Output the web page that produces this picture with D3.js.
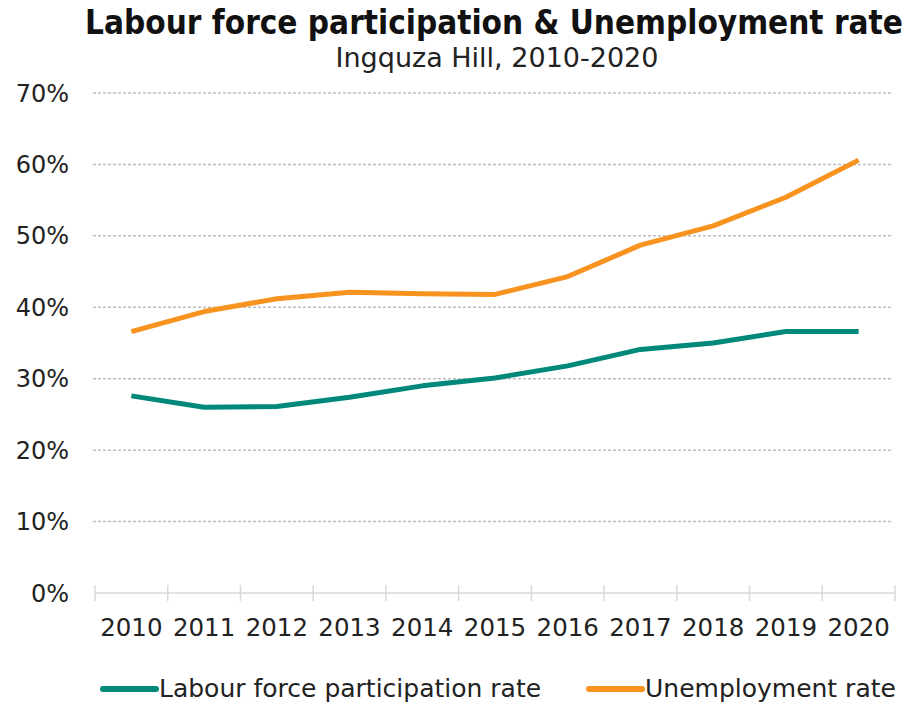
<!DOCTYPE html>
<html>
<head>
<meta charset="utf-8">
<script src="https://cdn.jsdelivr.net/npm/d3@7"></script>
<style>
  body { margin: 0; background: #fff; }
  svg { display: block; font-family: "DejaVu Sans", Verdana, sans-serif; }
</style>
</head>
<body>
<svg id="chart" width="912" height="704"></svg>
<script>
const years = ["2010", "2011", "2012", "2013", "2014", "2015", "2016", "2017", "2018", "2019", "2020"];
const labourForce = [27.6, 26.0, 26.1, 27.4, 29.0, 30.1, 31.8, 34.1, 35.0, 36.6, 36.6];
const unemployment = [36.6, 39.4, 41.2, 42.1, 41.9, 41.8, 44.3, 48.7, 51.4, 55.4, 60.6];
const yTicks = [0, 10, 20, 30, 40, 50, 60, 70];

const series = [
    { name: "Labour force participation rate", values: labourForce, color: "#00897b" },
    { name: "Unemployment rate", values: unemployment, color: "#f7931e" }
];

const svg = d3.select("#chart");

const x = d3.scaleBand()
    .domain(years)
    .range([95, 895]);

const y = d3.scaleLinear()
    .domain([0, 70])
    .range([593, 93]);

// title
svg.append("text")
    .attr("x", 494)
    .attr("y", 34)
    .attr("text-anchor", "middle")
    .attr("font-family", "'DejaVu Sans Condensed', 'DejaVu Sans', sans-serif")
    .attr("font-size", 33)
    .attr("font-weight", "bold")
    .attr("fill", "#111")
    .text("Labour force participation & Unemployment rate");

svg.append("text")
    .attr("x", 497)
    .attr("y", 67)
    .attr("text-anchor", "middle")
    .attr("font-size", 27)
    .attr("fill", "#222")
    .text("Ingquza Hill, 2010-2020");

// gridlines
svg.append("g")
    .selectAll("line")
    .data(yTicks.filter(d => d > 0))
    .enter()
    .append("line")
    .attr("x1", 93)
    .attr("x2", 893)
    .attr("y1", d => y(d))
    .attr("y2", d => y(d))
    .attr("stroke", "#bdbdbd")
    .attr("stroke-width", 1.5)
    .attr("stroke-dasharray", "3,2");

// y labels
svg.append("g")
    .selectAll("text")
    .data(yTicks)
    .enter()
    .append("text")
    .attr("x", 69)
    .attr("y", d => y(d))
    .attr("dy", "0.36em")
    .attr("text-anchor", "end")
    .attr("font-size", 24)
    .attr("fill", "#222")
    .text(d => d + "%");

// x axis
const xAxis = svg.append("g")
    .attr("transform", "translate(0,593)");

xAxis.append("line")
    .attr("x1", 95)
    .attr("x2", 895)
    .attr("stroke", "#d9d9d9")
    .attr("stroke-width", 1.5);

const tickXs = years.map(d => x(d)).concat([x.range()[1]]);
xAxis.selectAll(".tick")
    .data(tickXs)
    .enter()
    .append("line")
    .attr("class", "tick")
    .attr("x1", d => d)
    .attr("x2", d => d)
    .attr("y1", -8)
    .attr("y2", 8)
    .attr("stroke", "#d9d9d9")
    .attr("stroke-width", 1.5);

xAxis.selectAll("text")
    .data(years)
    .enter()
    .append("text")
    .attr("x", d => x(d) + x.bandwidth() / 2)
    .attr("y", 43)
    .attr("text-anchor", "middle")
    .attr("font-size", 24.5)
    .attr("fill", "#222")
    .text(d => d);

// lines
const line = d3.line()
    .x((d, i) => x(years[i]) + x.bandwidth() / 2)
    .y(d => y(d));

svg.append("g")
    .selectAll("path")
    .data(series)
    .enter()
    .append("path")
    .attr("d", d => line(d.values))
    .attr("fill", "none")
    .attr("stroke", d => d.color)
    .attr("stroke-width", 5)
    .attr("stroke-linejoin", "round");

// legend
const legendPos = [103, 589];
const legend = svg.append("g")
    .selectAll("g")
    .data(series)
    .enter()
    .append("g")
    .attr("transform", (d, i) => `translate(${legendPos[i]},689)`);

legend.append("line")
    .attr("x1", 0)
    .attr("x2", 53)
    .attr("stroke", d => d.color)
    .attr("stroke-width", 6)
    .attr("stroke-linecap", "round");

legend.append("text")
    .attr("x", 56)
    .attr("y", 8)
    .attr("font-size", 25)
    .attr("fill", "#222")
    .text(d => d.name);
</script>
</body>
</html>
